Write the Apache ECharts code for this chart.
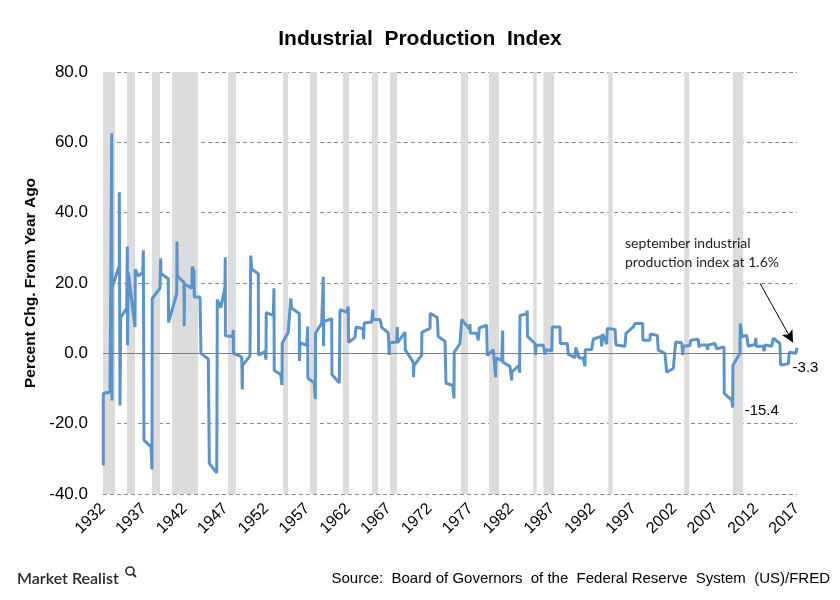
<!DOCTYPE html>
<html><head><meta charset="utf-8">
<script src="https://cdn.jsdelivr.net/npm/echarts@6/dist/echarts.min.js"></script>
<style>html,body{margin:0;padding:0;background:#fff}#c{width:840px;height:600px}</style>
</head><body><div id="c"></div>
<script>
const title = 'Industrial  Production  Index';
const yAxisTitle = 'Percent Chg. From Year Ago';
const sourceText = 'Source:  Board of Governors  of the  Federal Reserve  System  (US)/FRED';
const firstYear = 1932, lastYear = 2017;
const yTicks = [-40, -20, 0, 20, 40, 60, 80];

const years = [1932.04,1932.04,1932.86,1933.07,1933.10,1933.12,1934.00,1934.00,1934.08,1934.17,1934.90,1934.98,1935.00,1935.10,1935.92,1935.95,1936.32,1936.86,1936.94,1937.02,1937.88,1938.00,1938.03,1938.98,1939.07,1939.10,1940.00,1940.03,1941.03,1941.06,1941.10,1941.92,1941.95,1941.98,1942.86,1942.94,1943.15,1943.18,1943.88,1944.00,1944.90,1945.02,1945.93,1946.00,1946.42,1946.94,1946.97,1947.00,1947.88,1947.96,1947.99,1948.99,1949.06,1949.09,1950.00,1950.09,1950.21,1951.02,1951.05,1951.84,1951.96,1951.99,1952.86,1952.94,1952.97,1953.76,1953.92,1953.95,1954.69,1954.99,1955.11,1956.04,1956.07,1956.13,1956.95,1957.07,1957.10,1957.88,1958.00,1958.03,1958.79,1958.98,1959.01,1959.04,1960.01,1960.04,1960.94,1961.03,1961.85,1962.04,1962.07,1962.86,1962.99,1963.88,1963.91,1964.00,1964.91,1965.03,1965.06,1965.93,1966.13,1966.94,1967.06,1967.09,1967.97,1968.04,1968.07,1968.99,1969.02,1970.00,1970.03,1970.09,1971.03,1971.06,1972.05,1972.08,1972.94,1973.06,1973.89,1974.01,1974.83,1974.99,1975.02,1975.72,1975.93,1976.86,1976.95,1976.98,1977.77,1977.96,1978.09,1978.99,1979.07,1979.80,1980.09,1980.12,1980.83,1980.95,1980.98,1981.85,1982.05,1982.08,1982.99,1983.02,1983.07,1983.89,1983.96,1983.99,1984.91,1984.99,1985.03,1985.93,1986.14,1986.26,1986.96,1987.03,1987.97,1988.00,1988.87,1988.99,1989.81,1989.90,1990.33,1990.82,1991.03,1991.06,1991.85,1992.05,1992.99,1993.08,1993.20,1993.69,1993.76,1994.71,1994.83,1995.93,1996.05,1996.95,1997.16,1998.10,1998.13,1998.99,1999.02,1999.89,2000.01,2000.83,2001.04,2001.85,2002.14,2002.88,2003.00,2003.07,2003.89,2003.98,2004.91,2004.99,2005.12,2005.94,2006.06,2006.14,2006.95,2007.16,2008.06,2008.09,2009.00,2009.12,2009.15,2010.02,2010.05,2010.25,2010.84,2011.03,2011.85,2011.97,2012.00,2012.87,2012.96,2013.08,2013.90,2014.10,2014.91,2014.99,2015.93,2016.05,2016.87,2017.00];
const values = [-31.9,-11.4,-11.0,62.6,-13.4,18.8,25.0,45.8,-14.8,10.2,12.8,30.4,2.3,23.0,7.5,23.9,22.0,23.0,29.3,-24.7,-26.6,-33.0,15.6,18.5,27.0,22.7,21.2,8.8,17.0,31.8,22.0,20.2,7.7,19.8,18.5,24.7,23.5,16.0,16.0,0.0,-1.6,-31.3,-34.0,15.3,13.0,18.8,27.3,5.0,4.8,6.6,0.0,-1.0,-10.3,-3.4,-0.8,27.8,24.0,22.6,-0.5,0.5,-1.8,11.6,10.8,18.5,-4.8,-6.0,-9.0,2.9,6.0,15.6,12.8,11.3,-2.2,3.0,2.3,7.6,-7.1,-8.4,-13.0,5.7,8.6,21.8,2.0,9.0,9.9,-6.0,-8.4,12.4,11.7,13.3,3.1,4.5,7.5,7.0,4.0,8.6,8.9,12.4,9.6,9.6,7.4,5.8,-0.5,3.0,3.2,7.5,3.0,6.0,1.0,-2.5,-6.8,-3.5,-0.5,6.0,7.1,11.4,10.2,4.8,3.4,-8.5,-9.1,-12.8,0.3,2.8,9.6,7.0,8.3,5.8,5.7,3.7,7.2,8.0,-0.6,1.0,-6.8,-1.3,-2.0,6.5,-2.5,-3.7,-7.7,-5.3,-3.4,-5.5,10.8,11.2,12.2,4.8,2.8,-0.5,2.2,2.4,-0.3,1.0,0.7,7.5,7.5,2.8,2.8,-0.3,-1.2,1.7,-1.3,-1.3,-3.7,1.0,1.1,4.0,4.8,2.0,5.5,2.6,7.1,6.8,2.4,2.0,5.7,7.5,8.5,8.5,3.7,3.7,5.5,5.1,0.9,0.0,-5.4,-4.3,3.2,3.0,-0.5,2.0,2.2,3.7,4.0,1.7,2.4,2.4,1.0,2.4,2.8,1.3,1.8,-11.4,-13.3,-15.4,-3.4,0.0,8.5,4.8,5.1,2.0,2.5,4.4,2.0,2.0,0.6,2.4,2.0,4.3,2.8,-3.3,-3.0,0.3,0.0,1.6];

// shaded periods [start, end] in axis years
const bandStarts = [1932.00,1934.94,1938.00,1940.45,1947.31,1954.05,1957.35,1961.39,1964.95,1967.15,1975.85,1979.28,1984.70,1985.93,1993.89,2003.19,2009.12];
const bandEnds   = [1933.47,1935.92,1938.98,1943.63,1948.29,1954.66,1958.21,1962.13,1965.68,1968.01,1976.71,1980.50,1985.12,1987.24,1994.42,2003.80,2010.42];

// labelled points
const labelledYears = [2009.12, 2014.99];
const labelTexts = ['-15.4', '-3.3'];

// annotation
const noteText = 'september industrial\nproduction index at 1.6%';
const arrowFrom = [2012.47, 19.9];
const arrowTo = [2016.51, 3.1];

const off = y => +(y - firstYear).toFixed(3);
const lineData = years.map((y, i) => [off(y), values[i]]);
const labelPoints = labelledYears.map((y, k) => {
  const i = years.indexOf(y);
  return { coord: [off(y), values[i]], value: labelTexts[k], label: { offset: [12, 3] } };
});
const bandData = bandStarts.map((s, i) => [{ xAxis: off(s) }, { xAxis: off(bandEnds[i]) }]);

const chart = echarts.init(document.getElementById('c'), null, { renderer: 'canvas' });
chart.setOption({
  animation: false,
  backgroundColor: '#fff',
  title: { text: title, left: 'center', top: 24,
    textStyle: { fontFamily: 'Liberation Sans, Arial', fontSize: 21, fontWeight: 'bold', color: '#000' } },
  grid: { left: 103, right: 43, top: 72, bottom: 106 },
  xAxis: {
    type: 'value', min: 0, max: lastYear - firstYear, interval: 5,
    axisLine: { show: false }, axisTick: { show: false }, splitLine: { show: false },
    axisLabel: { rotate: 45, margin: 12, color: '#000', fontFamily: 'Liberation Sans, Arial', fontSize: 16,
      formatter: v => String(firstYear + v) }
  },
  yAxis: {
    type: 'value', min: yTicks[0], max: yTicks[yTicks.length - 1], interval: 20,
    name: yAxisTitle, nameLocation: 'middle', nameGap: 62,
    nameTextStyle: { fontFamily: 'Liberation Sans, Arial', fontSize: 15.5, fontWeight: 'bold', color: '#000' },
    axisLine: { show: false }, axisTick: { show: false },
    axisLabel: { margin: 15, color: '#000', fontFamily: 'Liberation Sans, Arial', fontSize: 17,
      formatter: v => v.toFixed(1) },
    splitLine: { show: true, lineStyle: { color: '#8c8c8c', type: [4, 3], width: 1 } }
  },
  series: [
    {
      type: 'line', data: [], silent: true, z: 1,
      markArea: { silent: true, itemStyle: { color: '#dcdcdc' }, data: bandData },
      markLine: { silent: true, symbol: 'none', label: { show: false },
        lineStyle: { color: '#7f7f7f', type: 'solid', width: 1 }, data: [{ yAxis: 0 }] }
    },
    {
      type: 'line', data: lineData, showSymbol: false, symbol: 'none', z: 3,
      lineStyle: { color: '#5b93cc', width: 3 },
      markPoint: { silent: true, symbol: 'circle', symbolSize: 0, data: labelPoints,
        label: { show: true, position: 'right', distance: 0, formatter: p => p.value, color: '#000',
          fontFamily: 'Liberation Sans, Arial', fontSize: 15 } },
      markLine: { silent: true, symbol: ['none', 'arrow'], symbolSize: [9, 12], label: { show: false },
        lineStyle: { color: '#000', type: 'solid', width: 1 },
        data: [[{ coord: [off(arrowFrom[0]), arrowFrom[1]] }, { coord: [off(arrowTo[0]), arrowTo[1]] }]] }
    }
  ],
  graphic: [
    { type: 'text', z: 100, left: 625, top: 234, style: { text: noteText, fill: '#222', font: '14px Lato, "Open Sans", sans-serif', lineHeight: 19 } },
    { type: 'text', z: 100, left: 17, top: 571, style: { text: 'Market Realist', fill: '#2b2b2b', font: '600 16px Lato, "Open Sans", sans-serif' } },
    { type: 'circle', z: 100, shape: { cx: 130, cy: 571, r: 4 }, style: { fill: 'none', stroke: '#2b2b2b', lineWidth: 1.6 } },
    { type: 'line', z: 100, shape: { x1: 133, y1: 574, x2: 136, y2: 577 }, style: { stroke: '#2b2b2b', lineWidth: 1.8 } },
    { type: 'text', z: 100, right: 10, top: 571, style: { text: sourceText, fill: '#000', font: '15px "Liberation Sans", Arial, sans-serif' } }
  ]
});
</script></body></html>
